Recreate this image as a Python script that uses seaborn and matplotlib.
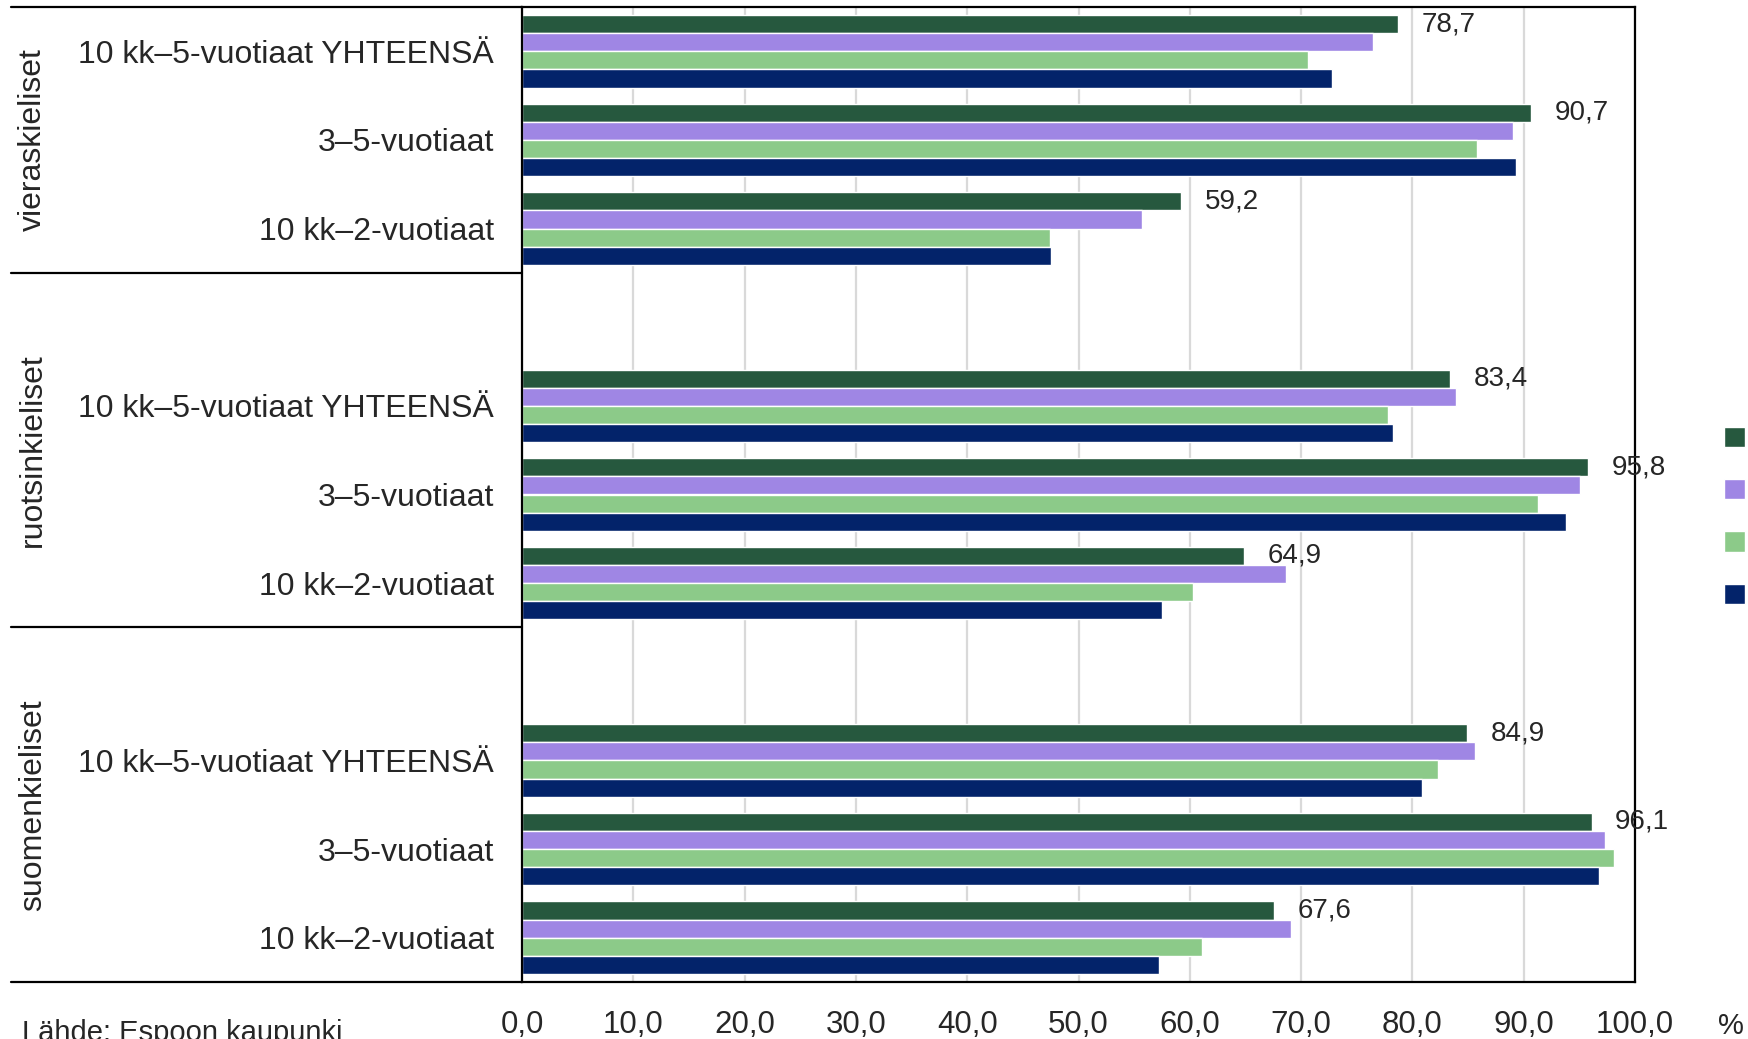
import pandas as pd
import seaborn as sns
import matplotlib.pyplot as plt

# ------------ DATA ------------
groups = ["vieraskieliset", "ruotsinkieliset", "suomenkieliset"]
ages = ["10 kk–5-vuotiaat YHTEENSÄ", "3–5-vuotiaat", "10 kk–2-vuotiaat"]
years = ["2024", "2023", "2022", "2021"]
colors = ["#26583E", "#9F86E4", "#8CCA89", "#03236A"]

# rows = ages, columns = years
vieraskieliset = [[78.7, 76.5, 70.6, 72.8],
                  [90.7, 89.0, 85.8, 89.3],
                  [59.2, 55.7, 47.4, 47.5]]
ruotsinkieliset = [[83.4, 83.9, 77.8, 78.3],
                   [95.8, 95.1, 91.3, 93.8],
                   [64.9, 68.6, 60.3, 57.5]]
suomenkieliset = [[84.9, 85.6, 82.3, 80.9],
                  [96.1, 97.3, 98.1, 96.8],
                  [67.6, 69.1, 61.1, 57.2]]
# ------------------------------

rows = []
for g, table in zip(groups, [vieraskieliset, ruotsinkieliset, suomenkieliset]):
    for a, vals in zip(ages, table):
        for y, v in zip(years, vals):
            rows.append({"slot": f"{g}|{a}", "age": a, "year": y, "value": v})
df = pd.DataFrame(rows)

# category order with an empty slot between groups
order = []
for i, g in enumerate(groups):
    if i > 0:
        order.append(" " * i)
    order += [f"{g}|{a}" for a in ages]

sns.set_style("white")
plt.rcParams["font.family"] = ["Liberation Sans", "DejaVu Sans"]

fig = plt.figure(figsize=(17.49, 10.39), dpi=100)
ax = fig.add_axes([522 / 1749, 57 / 1039, (1635 - 522) / 1749, (982 - 7) / 1039])

sns.barplot(data=df, y="slot", x="value", hue="year", order=order,
            hue_order=years, palette=colors, orient="h", width=0.82,
            edgecolor="white", linewidth=1, saturation=1, ax=ax)
ax.get_legend().remove()

# value labels on the first series only
first = ax.containers[0]
ax.bar_label(first, labels=[f"{v:.1f}".replace(".", ",") for v in first.datavalues],
             padding=17, fontsize=20)

ax.set_xlim(0, 100)
ticks = list(range(0, 101, 10))
ax.set_xticks(ticks)
ax.set_xticklabels([f"{t:.1f}".replace(".", ",") for t in ticks], fontsize=22.5)
ax.set_yticks(range(len(order)))
ax.set_yticklabels([s.split("|")[1] if "|" in s else "" for s in order], fontsize=23)
ax.tick_params(axis="x", length=0, pad=20)
ax.tick_params(axis="y", length=0, pad=20)
ax.set_xlabel("")
ax.set_ylabel("")
ax.xaxis.grid(True, color="#D9D9D9", linewidth=1.6)
ax.set_axisbelow(True)
for s in ax.spines.values():
    s.set_color("black")
    s.set_linewidth(1.6)

# group frame lines and labels on the left
left = (11 - 522) / (1635 - 522)
trans = ax.get_yaxis_transform()
for yb in [-0.5, 2.5, 6.5, 10.5]:
    ax.plot([left, 0], [yb, yb], color="black", linewidth=1.6,
            transform=trans, clip_on=False)
for g, yc in zip(groups, [1.0, 4.5, 8.5]):
    ax.text((33 - 522) / (1635 - 522), yc, g, rotation=90, fontsize=23,
            ha="center", va="center", transform=trans)
ax.set_ylim(len(order) - 0.5, -0.5)

handles = ax.containers
fig.legend(handles, years, loc="center left",
           bbox_to_anchor=(1724 / 1749, 1 - 518 / 1039), frameon=False,
           fontsize=20, handlelength=0.75, handleheight=0.75,
           handletextpad=0.25, labelspacing=0.95, borderpad=0, borderaxespad=0)

fig.text(22 / 1749, 1 - 1019 / 1039, "Lähde: Espoon kaupunki", fontsize=21, va="top")
fig.text(1718 / 1749, 1 - 1012 / 1039, "%", fontsize=21, va="top")

plt.savefig("out.png", dpi=100)
